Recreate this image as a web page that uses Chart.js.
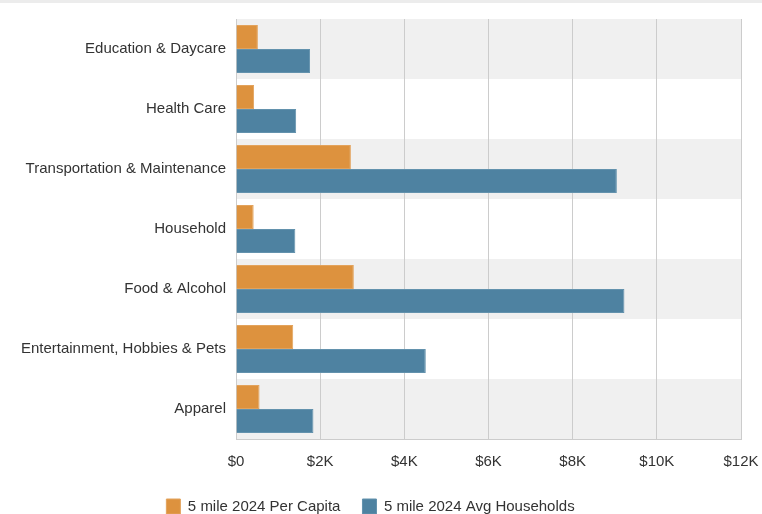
<!DOCTYPE html>
<html>
<head>
<meta charset="utf-8">
<script src="https://cdn.jsdelivr.net/npm/chart.js@4.4.0/dist/chart.umd.min.js"></script>
<style>
  html, body { margin: 0; padding: 0; background: #fff; overflow: hidden; }
  #topline { position: absolute; left: 0; top: 0; width: 762px; height: 3px; background: #ececec; }
  #wrap { position: relative; width: 762px; height: 524px; }
</style>
</head>
<body>
<div id="wrap"><canvas id="chart"></canvas></div>
<div id="topline"></div>
<script>
const categories = [
  'Education & Daycare',
  'Health Care',
  'Transportation & Maintenance',
  'Household',
  'Food & Alcohol',
  'Entertainment, Hobbies & Pets',
  'Apparel'
];
const perCapita = [520, 430, 2730, 420, 2800, 1360, 560];
const avgHouseholds = [1760, 1430, 9050, 1410, 9230, 4510, 1840];
const xTicks = [0, 2000, 4000, 6000, 8000, 10000, 12000];

// shade every other category row behind the bars
const rowBands = {
  id: 'rowBands',
  beforeDraw(chart) {
    const { ctx, chartArea, scales } = chart;
    const y = scales.y;
    const step = (chartArea.bottom - chartArea.top) / categories.length;
    ctx.save();
    ctx.fillStyle = '#f0f0f0';
    categories.forEach((c, i) => {
      if (i % 2 === 0) {
        const mid = y.getPixelForValue(i);
        ctx.fillRect(chartArea.left, mid - step / 2, chartArea.right - chartArea.left, step);
      }
    });
    ctx.restore();
  }
};

Chart.defaults.font.family = '"Liberation Sans", Arial, sans-serif';
Chart.defaults.font.size = 15;
Chart.defaults.color = '#333';

const ctx = document.getElementById('chart').getContext('2d');
new Chart(ctx, {
  type: 'bar',
  data: {
    labels: categories,
    datasets: [
      {
        label: '5 mile 2024 Per Capita',
        data: perCapita,
        backgroundColor: '#dd923e',
        borderColor: '#e3a35c',
        borderWidth: 1,
        categoryPercentage: 0.8,
        barPercentage: 1.0
      },
      {
        label: '5 mile 2024 Avg Households',
        data: avgHouseholds,
        backgroundColor: '#4e82a1',
        borderColor: '#6392ad',
        borderWidth: 1,
        categoryPercentage: 0.8,
        barPercentage: 1.0
      }
    ]
  },
  options: {
    indexAxis: 'y',
    responsive: true,
    maintainAspectRatio: false,
    animation: false,
    layout: { padding: { top: 19, right: 21, left: 0, bottom: 0 } },
    scales: {
      x: {
        min: 0,
        max: 12000,
        afterBuildTicks: (scale) => { scale.ticks = xTicks.map(v => ({ value: v })); },
        afterFit: (scale) => {
          scale.height = 38;
          scale.paddingLeft = 0;
          scale.paddingRight = 0;
        },
        ticks: {
          padding: 14,
          callback: (v) => v === 0 ? '$0' : '$' + (v / 1000) + 'K'
        },
        grid: { color: '#cccccc', drawTicks: false },
        border: { color: '#cccccc' }
      },
      y: {
        afterFit: (scale) => {
          scale.width = 236;
          scale.paddingTop = 0;
          scale.paddingBottom = 0;
        },
        ticks: { padding: 10 },
        grid: { display: false, drawTicks: false },
        border: { color: '#cccccc' }
      }
    },
    plugins: {
      legend: {
        position: 'bottom',
        labels: { boxWidth: 14, boxHeight: 15, padding: 22 }
      },
      tooltip: { enabled: false }
    }
  },
  plugins: [rowBands]
});
</script>
</body>
</html>
